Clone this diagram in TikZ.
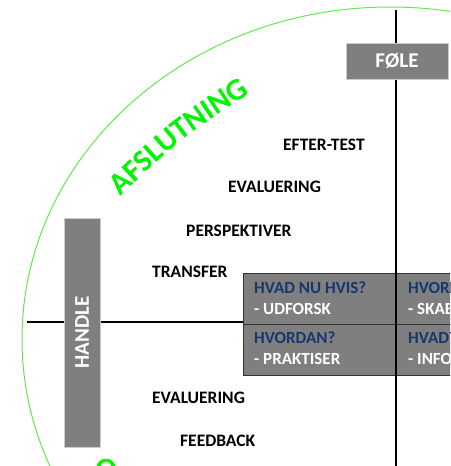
\documentclass[tikz,border=0pt]{standalone}
\usepackage{fontspec}
\setmainfont{Carlito}
\usetikzlibrary{decorations.text}
\definecolor{boxgray}{RGB}{127,127,127}
\definecolor{navy}{RGB}{23,55,110}
\definecolor{arcgreen}{RGB}{100,232,80}
\definecolor{txtgreen}{RGB}{0,245,0}
\begin{document}
\begin{tikzpicture}[x=1pt,y=-1pt,
  lbl/.style={anchor=base west, inner sep=0pt, font=\fontsize{17.5}{20}\selectfont\bfseries, text=black},
  greybox/.style={fill=boxgray, draw=black!20, line width=0.6pt, text=white, font=\fontsize{21}{24}\selectfont\bfseries, inner sep=0pt},
  cell/.style={fill=boxgray, draw=black!80, line width=1.2pt, inner sep=0pt},
  qtxt/.style={anchor=base west, inner sep=0pt, font=\fontsize{17}{19}\selectfont\bfseries, text=navy},
  atxt/.style={anchor=base west, inner sep=0pt, font=\fontsize{17}{19}\selectfont\bfseries, text=white},
  axis/.style={draw=black, line width=1.8pt}]
\useasboundingbox (0,0) rectangle (450,466);
\clip (0,0) rectangle (450,466);
% outer green ellipse
\draw[arcgreen, line width=1pt] (390,339) ellipse [x radius=368, y radius=332];
% axis endpoints
\coordinate (vtop) at (396,10);
\coordinate (vbot) at (396,470);
\coordinate (hleft) at (27,322);
\coordinate (hright) at (396,322);
\draw[axis] (hleft) -- (hright);
% table cells
\node[cell, anchor=north west, minimum width=153, minimum height=51] (c11) at (243,273) {};
\node[cell, anchor=north west, minimum width=100, minimum height=51] (c12) at (396,273) {};
\node[cell, anchor=north west, minimum width=153, minimum height=51] (c21) at (243,324) {};
\node[cell, anchor=north west, minimum width=100, minimum height=51] (c22) at (396,324) {};
\node[qtxt] (q11) at (254,293) {HVAD NU HVIS?};
\node[atxt] (a11) at (254,314) {- UDFORSK};
\node[qtxt] (q12) at (408,293) {HVORFOR?};
\node[atxt] (a12) at (408,314) {- SKAB MENING};
\node[qtxt] (q21) at (254,343) {HVORDAN?};
\node[atxt] (a21) at (254,364) {- PRAKTISER};
\node[qtxt] (q22) at (408,343) {HVAD?};
\node[atxt] (a22) at (408,364) {- INFORMER};
\draw[axis] (vtop) -- (vbot);
% grey label boxes
\node[greybox, minimum width=102, minimum height=36] (fole) at (397,61) {FØLE};
\node[greybox, rotate=90, minimum width=229, minimum height=36] (handle) at (82,332.5) {HANDLE};
% phase labels
\node[lbl] (eftertest) at (283,150) {EFTER-TEST};
\node[lbl] (eval1) at (228,192) {EVALUERING};
\node[lbl] (persp) at (186,236) {PERSPEKTIVER};
\node[lbl] (transfer) at (152,277) {TRANSFER};
\node[lbl] (eval2) at (152,403) {EVALUERING};
\node[lbl] (feedback) at (180,446) {FEEDBACK};
% curved green title
\path[decorate, decoration={text along path, text align=center, text color=txtgreen,
  text={|\fontsize{31}{31}\selectfont\bfseries|AFSLUTNING}}]
  (121,196) .. controls (180.5,139) .. (250,94);
\node[inner sep=0pt, font=\fontsize{31}{31}\selectfont\bfseries, text=txtgreen] (o) at (106,469.5) {O};
\end{tikzpicture}
\end{document}
